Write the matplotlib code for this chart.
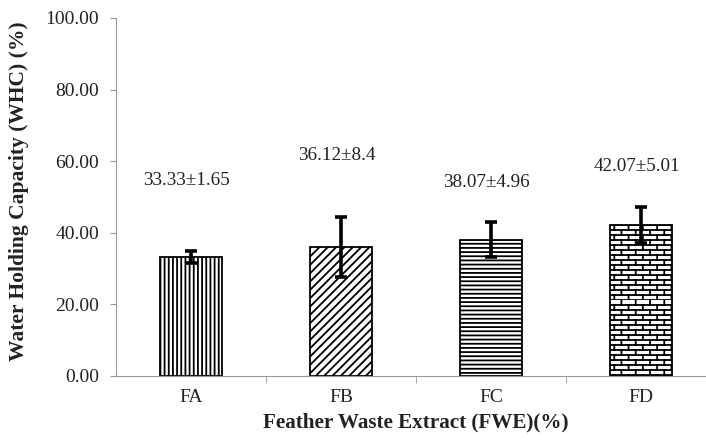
import matplotlib
matplotlib.use("Agg")
import matplotlib.pyplot as plt
import matplotlib.hatch as mhatch
from matplotlib.path import Path
import numpy as np

groups = ["FA", "FB", "FC", "FD"]
whc_mean = [33.33, 36.12, 38.07, 42.07]
whc_sd = [1.65, 8.4, 4.96, 5.01]
value_labels = ["33.33±1.65", "36.12±8.4", "38.07±4.96", "42.07±5.01"]
label_y = [54.5, 61.5, 54.0, 58.5]
hatches = ["||||", "////", "----", "b"]


class BrickHatch(mhatch.HatchPatternBase):
	"""Brick wall hatch: horizontal courses with staggered joints."""
	def __init__(self, hatch, density):
		n = hatch.count("b")
		self.rows = n * 20
		self.cols = n * 7
		self.num_lines = self.rows + self.rows * self.cols
		self.num_vertices = self.num_lines * 2

	def set_vertices_and_codes(self, vertices, codes):
		pts = []
		for i in range(self.rows):
			y = i / self.rows
			pts += [(0.0, y), (1.0, y)]
		for i in range(self.rows):
			y0, y1 = i / self.rows, (i + 1) / self.rows
			off = 0.5 / self.cols if i % 2 else 0.0
			for j in range(self.cols):
				x = j / self.cols + off
				pts += [(x, y0), (x, y1)]
		vertices[:] = pts
		codes[0::2] = Path.MOVETO
		codes[1::2] = Path.LINETO


mhatch._hatch_types.append(BrickHatch)

plt.rcParams["font.family"] = ["Liberation Serif", "DejaVu Serif"]
plt.rcParams["hatch.linewidth"] = 1.3

fig = plt.figure(figsize=(7.06, 4.42), dpi=100)
ax = fig.add_axes([116 / 706, 66 / 442, 600 / 706, 358 / 442])

x = np.arange(len(groups))
bars = ax.bar(x, whc_mean, width=0.41, color="white", edgecolor="black", linewidth=1.3)
for b, h in zip(bars, hatches):
	b.set_hatch(h)
ax.errorbar(x, whc_mean, yerr=whc_sd, fmt="none", ecolor="black", elinewidth=2.6,
	capsize=4, capthick=2.6)

for xi, txt, yy in zip(x, value_labels, label_y):
	ax.text(xi - 0.03, yy, txt, ha="center", va="center", fontsize=13.8, color="#222222")

ax.set_xlim(-0.5, 3.5)
ax.set_ylim(0, 100)
ax.set_yticks(np.arange(0, 101, 20))
ax.set_yticklabels(["%.2f" % v for v in np.arange(0, 101, 20)])
ax.set_xticks(x)
ax.set_xticklabels(groups)
ax.set_xticks([0.5, 1.5, 2.5], minor=True)
ax.tick_params(axis="x", which="major", length=0, pad=9, labelsize=14, labelcolor="#222222")
ax.tick_params(axis="x", which="minor", length=5, color="#999999", direction="out")
ax.tick_params(axis="y", length=4, color="#999999", labelsize=14, pad=8, labelcolor="#222222")
for s in ["top", "right"]:
	ax.spines[s].set_visible(False)
for s in ["left", "bottom"]:
	ax.spines[s].set_color("#999999")

ax.set_ylabel("Water Holding Capacity (WHC) (%)", fontsize=15.5, fontweight="bold",
	color="#222222")
ax.yaxis.set_label_coords(-0.145, 0.515)
ax.set_xlabel("Feather Waste Extract (FWE)(%)", fontsize=15.2, fontweight="bold",
	labelpad=5, color="#222222")

plt.savefig("out.png", format="png")
plt.close()
